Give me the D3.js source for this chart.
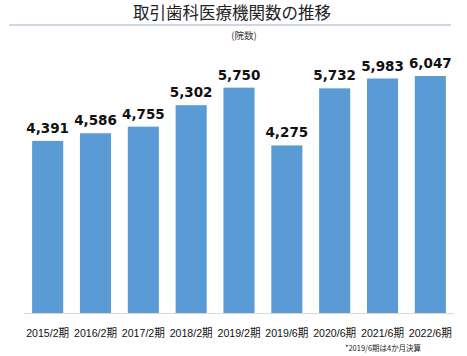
<!DOCTYPE html>
<html><head><meta charset="utf-8">
<script src="https://cdn.jsdelivr.net/npm/d3@7"></script>
<style>html,body{margin:0;padding:0;background:#fff;}</style>
</head><body>
<svg id="c" width="467" height="356"></svg>
<script>
const categories = ["2015/2期","2016/2期","2017/2期","2018/2期","2019/2期","2019/6期","2020/6期","2021/6期","2022/6期"];
const values = [4391, 4586, 4755, 5302, 5750, 4275, 5732, 5983, 6047];
const title = "取引歯科医療機関数の推移";
const unit = "(院数)";
const note = "*2019/6期は4か月決算";

const svg = d3.select("#c");
const x = d3.scaleBand().domain(categories).range([24, 454]).paddingInner(0.35).paddingOuter(0.17);
const y = d3.scaleLinear().domain([0, 6047]).range([313, 76]);

svg.append("text").attr("x", 232).attr("y", 19).attr("text-anchor", "middle")
  .attr("font-family", "Noto Sans CJK JP").attr("font-size", 16.5).attr("fill", "#222").text(title);
svg.append("line").attr("x1", 9).attr("x2", 451).attr("y1", 25).attr("y2", 25)
  .attr("stroke", "#9fb0c4").attr("stroke-width", 1);
svg.append("text").attr("x", 244).attr("y", 39).attr("text-anchor", "middle")
  .attr("font-family", "Noto Sans CJK JP").attr("font-size", 9.5).attr("fill", "#333").text(unit);

svg.append("g").selectAll("rect").data(values).join("rect")
  .attr("x", (d,i) => x(categories[i])).attr("width", x.bandwidth())
  .attr("y", d => y(d)).attr("height", d => y(0) - y(d)).attr("fill", "#5b9bd5");

svg.append("line").attr("x1", 24).attr("x2", 454).attr("y1", 313.5).attr("y2", 313.5)
  .attr("stroke", "#d9d9d9").attr("stroke-width", 1);

svg.append("g").selectAll("text").data(values).join("text")
  .attr("x", (d,i) => x(categories[i]) + x.bandwidth()/2).attr("y", d => y(d) - 8)
  .attr("text-anchor", "middle").attr("font-family", "DejaVu Sans").attr("font-weight", "bold")
  .attr("font-size", 13.5).attr("fill", "#111")
  .text(d => d3.format(",")(d));

const xa = svg.append("g").attr("transform", "translate(0,313)")
  .call(d3.axisBottom(x).tickSize(0).tickPadding(16));
xa.select(".domain").remove();
xa.selectAll("text").attr("font-family", "Liberation Sans, Noto Sans CJK JP").attr("font-size", 11).attr("fill", "#111")
  .attr("textLength", 43).attr("lengthAdjust", "spacingAndGlyphs");

svg.append("text").attr("x", 421).attr("y", 351).attr("text-anchor", "end")
  .attr("font-family", "Noto Sans CJK JP").attr("font-size", 8).attr("fill", "#222")
  .attr("textLength", 76).attr("lengthAdjust", "spacingAndGlyphs").text(note);
</script>
</body></html>
